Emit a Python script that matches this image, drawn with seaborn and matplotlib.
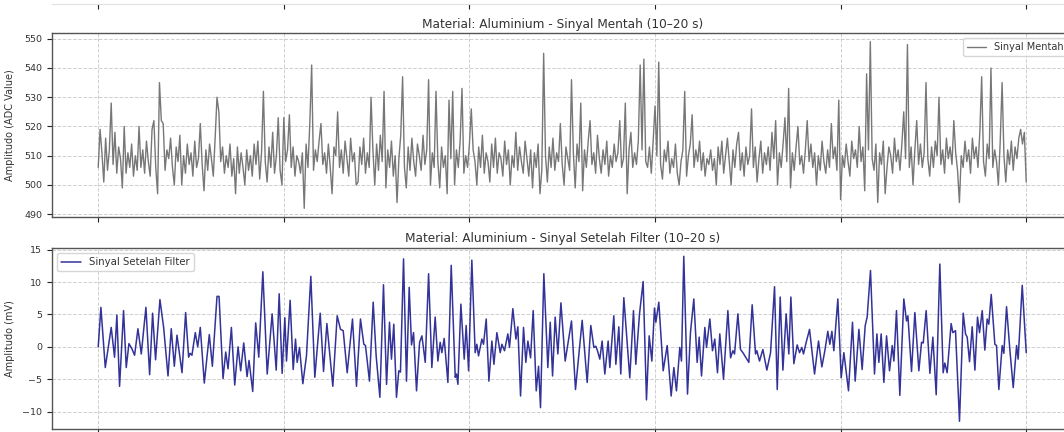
import numpy as np
import pandas as pd
import matplotlib
matplotlib.use("Agg")
import matplotlib.pyplot as plt
import seaborn as sns

# --- Data: raw ADC signal (sampled every 0.02 s, 10-20 s) ---
raw_values = [
    506, 519, 511, 501, 516, 505, 512, 528, 507, 518,
    504, 513, 509, 499, 520, 504, 511, 506, 514, 503,
    510, 505, 520, 506, 512, 504, 515, 508, 503, 519,
    522, 506, 497, 535, 522, 521, 505, 512, 509, 516,
    506, 500, 513, 508, 517, 500, 510, 504, 514, 507,
    511, 503, 515, 506, 509, 521, 507, 498, 512, 505,
    514, 509, 503, 516, 530, 525, 508, 513, 504, 510,
    506, 514, 503, 509, 497, 513, 504, 511, 506, 500,
    512, 505, 510, 503, 514, 507, 515, 502, 511, 532,
    508, 501, 513, 506, 518, 504, 510, 523, 505, 500,
    523, 508, 512, 524, 506, 513, 503, 510, 508, 504,
    511, 492, 514, 506, 521, 541, 505, 512, 508, 515,
    521, 507, 511, 504, 514, 506, 497, 513, 510, 525,
    506, 512, 504, 515, 509, 503, 516, 508, 511, 500,
    501, 513, 507, 516, 504, 511, 506, 530, 512, 500,
    514, 505, 517, 508, 532, 499, 512, 506, 515, 503,
    510, 494, 509, 517, 537, 506, 499, 513, 505, 516,
    508, 503, 514, 510, 505, 517, 507, 512, 536, 500,
    511, 506, 532, 508, 499, 513, 506, 510, 497, 529,
    509, 532, 500, 512, 506, 515, 533, 504, 510, 506,
    514, 526, 512, 508, 500, 513, 506, 517, 504, 511,
    508, 501, 514, 506, 516, 504, 511, 509, 503, 515,
    507, 512, 500, 510, 506, 518, 505, 513, 508, 504,
    515, 509, 503, 512, 499, 511, 506, 514, 497, 505,
    545, 510, 501, 513, 506, 516, 505, 511, 508, 521,
    507, 500, 513, 509, 505, 536, 511, 499, 514, 508,
    528, 498, 512, 506, 515, 522, 507, 511, 504, 517,
    509, 504, 512, 507, 515, 503, 510, 506, 514, 508,
    511, 522, 506, 509, 528, 497, 512, 518, 506, 511,
    507, 515, 541, 512, 543, 508, 506, 513, 504, 515,
    527, 510, 542, 507, 502, 512, 508, 515, 504, 509,
    506, 514, 504, 500, 508, 512, 532, 503, 510, 514,
    524, 506, 512, 508, 515, 505, 511, 503, 509, 507,
    512, 505, 509, 500, 513, 507, 515, 504, 510, 516,
    508, 500, 512, 506, 514, 518, 505, 511, 503, 513,
    507, 510, 526, 506, 513, 501, 509, 515, 504, 511,
    507, 513, 505, 518, 509, 522, 500, 511, 506, 514,
    523, 508, 533, 499, 511, 505, 513, 520, 507, 510,
    504, 512, 522, 508, 514, 506, 511, 500, 510, 505,
    515, 508, 504, 512, 506, 521, 509, 513, 505, 529,
    495, 510, 506, 514, 508, 503, 515, 509, 512, 506,
    520, 508, 513, 498, 538, 512, 549, 509, 505, 514,
    494, 511, 507, 515, 497, 506, 513, 510, 504, 516,
    508, 512, 505, 514, 525, 509, 548, 506, 513, 500,
    512, 522, 507, 514, 506, 511, 535, 509, 503, 513,
    506, 515, 510, 530, 507, 512, 504, 516, 509, 513,
    507, 522, 511, 505, 494, 510, 506, 515, 508, 512,
    504, 516, 509, 513, 506, 518, 537, 508, 503, 514,
    509, 540, 506, 512, 508, 500, 515, 535, 510, 501,
    512, 507, 515, 505, 513, 509, 516, 519, 514, 518,
    501,
]
raw_time = np.linspace(10, 20, len(raw_values))

# --- Data: filtered signal (turning points) ---
filt_time = [
    10.000, 10.029, 10.076, 10.140, 10.176, 10.201, 10.230, 10.273, 10.302, 10.331,
    10.363, 10.392, 10.428, 10.464, 10.514, 10.554, 10.586, 10.618, 10.665, 10.705,
    10.752, 10.787, 10.820, 10.849, 10.903, 10.942, 10.974, 10.990, 11.010, 11.046,
    11.072, 11.100, 11.143, 11.197, 11.230, 11.280, 11.302, 11.345, 11.374, 11.399,
    11.435, 11.471, 11.507, 11.535, 11.568, 11.604, 11.625, 11.665, 11.697, 11.730,
    11.774, 11.821, 11.874, 11.918, 11.950, 11.982, 12.011, 12.029, 12.068, 12.101,
    12.126, 12.144, 12.169, 12.205, 12.244, 12.291, 12.334, 12.392, 12.428, 12.464,
    12.492, 12.528, 12.575, 12.611, 12.640, 12.683, 12.740, 12.783, 12.826, 12.862,
    12.880, 12.923, 12.963, 12.995, 13.035, 13.074, 13.107, 13.139, 13.160, 13.185,
    13.214, 13.239, 13.257, 13.290, 13.322, 13.351, 13.376, 13.398, 13.430, 13.463,
    13.488, 13.524, 13.560, 13.595, 13.631, 13.660, 13.685, 13.703, 13.728, 13.768,
    13.804, 13.847, 13.861, 13.876, 13.908, 13.944, 13.965, 13.991, 14.026, 14.062,
    14.080, 14.098, 14.134, 14.152, 14.181, 14.210, 14.242, 14.264, 14.296, 14.332,
    14.350, 14.378, 14.414, 14.432, 14.468, 14.501, 14.522, 14.551, 14.583, 14.608,
    14.630, 14.659, 14.687, 14.720, 14.745, 14.766, 14.802, 14.845, 14.871, 14.896,
    14.924, 14.953, 14.986, 15.032, 15.100, 15.143, 15.215, 15.269, 15.308, 15.341,
    15.362, 15.380, 15.405, 15.430, 15.459, 15.495, 15.513, 15.556, 15.578, 15.610,
    15.631, 15.664, 15.728, 15.768, 15.793, 15.833, 15.872, 15.908, 15.937, 15.966,
    15.994, 16.009, 16.041, 16.088, 16.131, 16.174, 16.203, 16.231, 16.267, 16.285,
    16.310, 16.350, 16.382, 16.418, 16.454, 16.476, 16.501, 16.537, 16.555, 16.591,
    16.619, 16.644, 16.673, 16.698, 16.738, 16.785, 16.814, 16.839, 16.857, 16.893,
    16.921, 16.947, 17.011, 17.047, 17.083, 17.097, 17.126, 17.162, 17.205, 17.245,
    17.288, 17.317, 17.349, 17.378, 17.413, 17.442, 17.464, 17.496, 17.532, 17.557,
    17.582, 17.600, 17.629, 17.665, 17.719, 17.762, 17.798, 17.830, 17.862, 17.884,
    17.906, 17.927, 17.970, 18.006, 18.035, 18.085, 18.128, 18.157, 18.197, 18.232,
    18.265, 18.286, 18.322, 18.365, 18.391, 18.412, 18.437, 18.466, 18.495, 18.527,
    18.556, 18.574, 18.602, 18.638, 18.681, 18.710, 18.725, 18.764, 18.800, 18.843,
    18.872, 18.890, 18.922, 18.962, 18.994, 19.030, 19.069, 19.105, 19.123, 19.148,
    19.191, 19.209, 19.238, 19.281, 19.321, 19.346, 19.364, 19.389, 19.418, 19.447,
    19.475, 19.497, 19.526, 19.554, 19.579, 19.597, 19.623, 19.662, 19.680, 19.705,
    19.741, 19.759, 19.788, 19.824, 19.860, 19.896, 19.913, 19.957, 20.000,
]
filt_values = [
    0.0, 6.1, -3.2, 3.0, -1.6, 4.9, -6.1, 5.6, -3.2, 0.5,
    -0.3, -1.3, 2.8, -1.1, 6.1, -4.3, 5.2, -2.0, 7.3, 3.0,
    -4.5, 2.8, -3.0, 1.8, -4.0, 5.3, -1.6, -1.0, -1.3, 2.2,
    0.0, 3.0, -5.6, 1.9, -3.0, 7.8, 7.8, -4.9, -0.8, -3.4,
    3.0, -5.9, 0.0, -3.7, 0.6, -4.6, -2.1, -6.9, 3.7, -1.6,
    11.6, -4.2, 5.1, -3.6, 8.2, -4.1, 4.5, -2.2, 7.2, -3.5,
    1.2, -2.4, -0.1, -5.7, -1.4, 10.9, -4.7, 5.2, -3.8, 3.6,
    -0.6, -6.1, 4.8, 2.7, 2.5, -4.0, 4.3, -6.1, 4.3, 0.4,
    0.2, -5.3, 6.9, -1.4, -7.8, 9.6, -5.8, 3.8, -1.9, 3.5,
    -7.8, -3.7, -3.9, 13.6, -5.3, 9.2, 0.3, 2.2, -6.8, 0.7,
    1.7, -2.4, 11.3, -3.2, 4.6, -2.2, 0.7, -0.9, 1.3, -5.5,
    12.6, -4.7, -4.2, -5.8, 6.6, -1.9, 3.3, -3.7, 13.4, -0.9,
    0.4, -1.4, 1.2, 0.4, 4.3, -5.3, 0.9, -2.7, 2.2, -0.9,
    0.4, -0.6, 2.0, -0.1, 5.9, 1.2, 3.1, -7.6, 3.0, -2.4,
    0.9, -1.7, 5.6, -6.8, -3.0, -9.4, 11.3, -3.2, 3.8, -4.5,
    4.6, -1.1, 6.8, -2.2, 4.0, -6.6, 4.1, -5.5, 3.3, -0.1,
    0.1, -0.6, -1.9, 0.9, -4.2, 0.9, -3.2, 4.8, -2.7, 3.1,
    -4.2, 7.6, -4.8, 5.6, -2.7, 5.1, 10.1, -8.2, 1.7, -2.2,
    6.0, 3.8, 6.9, -3.7, 0.2, -7.6, -3.2, -6.8, -0.1, -2.2,
    14.0, -7.3, 2.2, 7.4, -2.4, 1.5, -4.5, 3.0, -0.1, 4.3,
    -0.6, 1.2, -4.0, 2.0, -5.0, 5.6, -1.7, -0.6, -1.1, 5.1,
    -0.4, -0.9, -2.4, 6.5, -1.1, -0.6, -2.2, -0.4, -3.6, -0.9,
    9.3, -6.6, 7.7, -3.6, 5.1, -1.1, 7.7, -2.6, 0.3, -0.9,
    -0.1, -1.1, 0.7, 2.7, -4.2, 0.9, -3.1, -0.6, 2.4, 0.4,
    2.4, -0.6, 7.4, -4.8, -0.9, -6.8, 3.8, -5.3, 2.7, -3.5,
    3.3, 4.6, 11.8, -4.2, 2.0, -2.4, 2.0, -5.5, 1.7, -3.7,
    0.2, -2.2, 5.6, -7.5, 7.4, 4.0, 4.8, -3.8, 5.3, -3.7,
    0.7, 0.6, 5.6, -4.1, 1.5, -7.4, 12.8, -4.0, -2.5, -4.0,
    3.6, 2.2, 2.5, -11.5, 5.2, 2.0, 1.5, -2.3, 3.1, -3.6,
    4.6, 2.2, 5.6, -0.5, 4.3, 3.5, 8.1, 0.4, 0.2, -6.6,
    0.2, -1.0, 6.2, -0.5, -6.3, 0.2, -1.9, 9.5, -0.9,
]

x_ticks = [10, 12, 14, 16, 18, 20]
raw_yticks = [490, 500, 510, 520, 530, 540, 550]
filt_yticks = [-10, -5, 0, 5, 10, 15]

df_raw = pd.DataFrame({"Waktu": raw_time, "Nilai": raw_values})
df_filt = pd.DataFrame({"Waktu": filt_time, "Nilai": filt_values})

# --- Plot ---
sns.set_style("ticks")
plt.rcParams["font.family"] = ["DejaVu Sans"]
plt.rcParams["xtick.direction"] = "out"
plt.rcParams["ytick.direction"] = "out"

fig = plt.figure(figsize=(10.64, 4.32), dpi=100)
L, W = 0.0487, 0.9594
ax0 = fig.add_axes([L, 0.9915, W, 0.4])     # lower edge of the (cropped) panel above
ax1 = fig.add_axes([L, 0.4984, W, 0.4245])
ax2 = fig.add_axes([L, 0.0058, W, 0.4201])

text_col = "#333333"
spine_col = "#555555"

# panel above: only its lower edge with tick marks is visible
ax0.set_xlim(9.5, 20.5)
ax0.set_xticks(x_ticks)
ax0.set_xticklabels([])
ax0.set_yticks([])
for side in ("left", "right", "top"):
    ax0.spines[side].set_visible(False)
ax0.spines["bottom"].set_color("#e2e2e2")
ax0.tick_params(axis="x", bottom=True, length=3.5, color="#222222")

sns.lineplot(data=df_raw, x="Waktu", y="Nilai", ax=ax1, color="#777777",
             linewidth=1.0, label="Sinyal Mentah", estimator=None)
sns.lineplot(data=df_filt, x="Waktu", y="Nilai", ax=ax2, color="navy", alpha=0.8,
             linewidth=1.1, label="Sinyal Setelah Filter", estimator=None)

ax1.set_title("Material: Aluminium - Sinyal Mentah (10–20 s)", fontsize=8.7,
              color=text_col, pad=4)
ax2.set_title("Material: Aluminium - Sinyal Setelah Filter (10–20 s)", fontsize=8.7,
              color=text_col, pad=4)
ax1.set_ylabel("Amplitudo (ADC Value)", fontsize=7, color=text_col)
ax2.set_ylabel("Amplitudo (mV)", fontsize=7, color=text_col)
ax1.set_yticks(raw_yticks)
ax2.set_yticks(filt_yticks)

for ax in (ax1, ax2):
    ax.set_xlim(9.5, 20.5)
    ax.set_xticks(x_ticks)
    ax.set_xticklabels([])   # labels fall outside the cropped view
    ax.set_xlabel("")
    ax.grid(True, linestyle="--", linewidth=0.7, color="#b0b0b0", alpha=0.6)
    ax.tick_params(bottom=True, left=True, labelsize=6.8, labelcolor=text_col,
                   length=3.5, width=0.8, color="#222222")
    ax.yaxis.set_label_coords(-0.036, 0.5)
    for s in ax.spines.values():
        s.set_visible(True)
        s.set_color(spine_col)
        s.set_linewidth(1.0)

ax1.legend(loc="upper right", fontsize=7, frameon=True, labelcolor=text_col)
ax2.legend(loc="upper left", fontsize=7.3, frameon=True, labelcolor=text_col)

fig.savefig("out.png", dpi=100)
